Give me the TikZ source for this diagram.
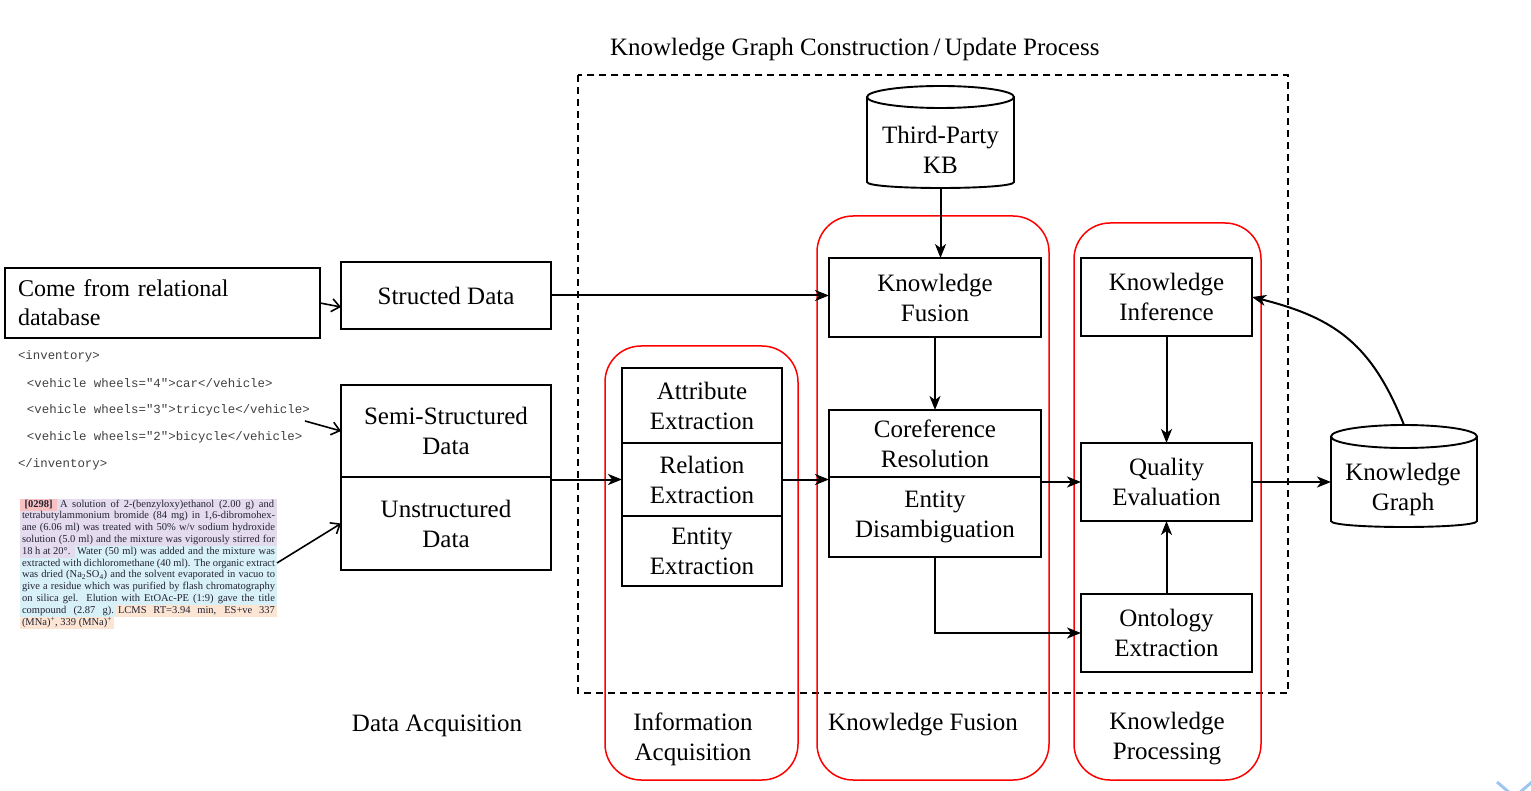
\documentclass[tikz,border=0pt]{standalone}
\usepackage{fontspec}
\setmainfont{Liberation Serif}
\newfontfamily\xmlfont{Liberation Mono}
\usetikzlibrary{arrows.meta}
\definecolor{kgred}{RGB}{255,0,0}
\definecolor{plav}{RGB}{228,220,238}
\definecolor{pcyan}{RGB}{216,240,248}
\definecolor{ppeach}{RGB}{253,229,211}
\definecolor{ppink}{RGB}{248,192,192}
\definecolor{ptext}{RGB}{34,34,51}
\definecolor{xmltext}{RGB}{64,64,64}
\definecolor{chev}{RGB}{158,197,240}
\begin{document}
\begin{tikzpicture}[x=1pt,y=-1pt,
  every node/.style={inner sep=0pt, outer sep=0pt},
  bigf/.style={font=\fontsize{25}{30}\selectfont},
  kbox/.style={bigf, draw, line width=2pt, align=center},
  cyl/.style={line width=1.9pt},
  redgroup/.style={draw=kgred, line width=1.5pt, rounded corners=36pt},
  arr/.style={line width=2pt, -{Stealth[length=14pt,width=11pt,inset=4pt]}},
  barb/.style={line width=1.6pt, -{Straight Barb[length=8pt,width=13pt]}},
  pline/.style={font=\fontsize{10.5}{11.8}\selectfont, text=ptext, inner xsep=2pt, text height=8pt, text depth=3.8pt, anchor=west},
  xml/.style={font=\xmlfont\fontsize{12.4}{14}\selectfont, text=xmltext, anchor=west},
]
\useasboundingbox (0,0) rectangle (1531,791);

% title and dashed frame
\node[bigf, anchor=west] (title) at (610,50) {Knowledge Graph Construction\,/\,Update Process};
\draw[line width=1.8pt, dash pattern=on 7pt off 5pt] (578,75) rectangle (1288,693);

% red groups
\draw[redgroup] (605,346) rectangle (798,780);
\draw[redgroup] (817,216) rectangle (1049,780);
\draw[redgroup] (1074,223) rectangle (1261,780);

% data sources
\node[draw, line width=2pt, font=\fontsize{24}{29}\selectfont, minimum width=315, minimum height=70, text width=289pt, align=left] (reldb) at (162.5,303) {Come from relational\\database};
\node[kbox, minimum width=210, minimum height=67] (struct) at (446,295.5) {Structed Data};
\node[kbox, minimum width=210, minimum height=92] (semi) at (446,431) {Semi-Structured\\Data};
\node[kbox, minimum width=210, minimum height=93] (unstr) at (446,523.5) {Unstructured\\Data};

% information acquisition
\node[kbox, minimum width=160, minimum height=75] (attr) at (702,405.5) {Attribute\\Extraction};
\node[kbox, minimum width=160, minimum height=73] (relx) at (702,479.5) {Relation\\Extraction};
\node[kbox, minimum width=160, minimum height=70] (entx) at (702,551) {Entity\\Extraction};

% knowledge fusion
\node[kbox, minimum width=212, minimum height=79] (kf) at (935,297.5) {Knowledge\\Fusion};
\node[kbox, minimum width=212, minimum height=67] (coref) at (935,443.5) {Coreference\\Resolution};
\node[kbox, minimum width=212, minimum height=80] (entdis) at (935,517) {Entity\\Disambiguation};

% knowledge processing
\node[kbox, minimum width=171, minimum height=78] (kinf) at (1166.5,297) {Knowledge\\Inference};
\node[kbox, minimum width=171, minimum height=78] (qual) at (1166.5,482) {Quality\\Evaluation};
\node[kbox, minimum width=171, minimum height=78] (onto) at (1166.5,633) {Ontology\\Extraction};

% Third-party KB cylinder
\node[minimum width=147, minimum height=102] (kb) at (940.5,137) {};
\draw[cyl] (867,97) -- (867,182) .. controls (867,190) and (1014,190) .. (1014,182) -- (1014,97);
\draw[cyl] (940.5,97) ellipse [x radius=73.5, y radius=11];
\node[bigf, align=center] (kbt) at (940.5,150) {Third-Party\\KB};

% Knowledge graph cylinder
\node[minimum width=146, minimum height=102] (kg) at (1404,476) {};
\draw[cyl] (1331,436.5) -- (1331,521) .. controls (1331,529) and (1477,529) .. (1477,521) -- (1477,436.5);
\draw[cyl] (1404,436.5) ellipse [x radius=73, y radius=11.5];
\node[bigf, align=center] (kgt) at (1403,489) {Knowledge\\Graph};

% bottom labels
\node[bigf] (lda) at (437,726) {Data Acquisition};
\node[bigf, align=center] (lia) at (693,739) {Information\\Acquisition};
\node[bigf] (lkf) at (923,725) {Knowledge Fusion};
\node[bigf, align=center] (lkp) at (1167,739) {Knowledge\\Processing};

% XML example
\node[xml] (x1) at (18,356) {<inventory>};
\node[xml] (x2) at (27,383) {<vehicle wheels="4">car</vehicle>};
\node[xml] (x3) at (27,410) {<vehicle wheels="3">tricycle</vehicle>};
\node[xml] (x4) at (27,437) {<vehicle wheels="2">bicycle</vehicle>};
\node[xml] (x5) at (18,464) {</inventory>};

% unstructured paragraph
\node[pline, fill=ppink, minimum width=37pt] (p1a) at (20,505) {\textbf{[0298]}};
\node[pline, fill=plav, inner xsep=3pt] (p1b) at (57,505) {\makebox[214pt][s]{A solution of 2-(benzyloxy)ethanol (2.00 g) and}};
\node[pline, fill=plav] (p2) at (20,516.8) {\makebox[253pt][s]{tetrabutylammonium bromide (84 mg) in 1,6-dibromohex-}};
\node[pline, fill=plav] (p3) at (20,528.6) {\makebox[253pt][s]{ane (6.06 ml) was treated with 50\% w/v sodium hydroxide}};
\node[pline, fill=plav] (p4) at (20,540.4) {\makebox[253pt][s]{solution (5.0 ml) and the mixture was vigorously stirred for}};
\node[pline, fill=plav] (p5a) at (20,552.2) {\makebox[51pt][l]{18 h at 20°.}};
\node[pline, fill=pcyan] (p5b) at (75,552.2) {\makebox[198pt][s]{Water (50 ml) was added and the mixture was}};
\node[pline, fill=pcyan] (p6) at (20,564) {\makebox[253pt][s]{extracted with dichloromethane (40 ml). The organic extract}};
\node[pline, fill=pcyan] (p7) at (20,575.8) {\makebox[253pt][s]{was dried (Na\textsubscript{2}SO\textsubscript{4}) and the solvent evaporated in vacuo to}};
\node[pline, fill=pcyan] (p8) at (20,587.6) {\makebox[253pt][s]{give a residue which was purified by flash chromatography}};
\node[pline, fill=pcyan] (p9) at (20,599.4) {\makebox[253pt][s]{on silica gel. Elution with EtOAc-PE (1:9) gave the title}};
\node[pline, fill=pcyan] (p10a) at (20,611.2) {\makebox[92pt][s]{compound (2.87 g).}};
\node[pline, fill=ppeach] (p10b) at (116,611.2) {\makebox[157pt][s]{LCMS RT=3.94 min, ES+ve 337}};
\node[pline, fill=ppeach] (p11) at (20,623) {(MNa)\textsuperscript{+}, 339 (MNa)\textsuperscript{+}};

% source arrows
\coordinate (xmlend) at (305,421);
\coordinate (parend) at (277,563);
\draw[barb] (reldb.east) -- ([yshift=-11.5pt]struct.west);
\draw[barb] (xmlend) -- (semi.west);
\draw[barb] (parend) -- (unstr.west);

% flow arrows
\draw[arr] (struct.east) -- (struct.east -| kf.west);
\draw[arr] (relx.west -| unstr.north east) -- (relx.west);
\draw[arr] (relx.east) -- (relx.east -| coref.west);
\draw[arr] (kb.south) -- (kb.south |- kf.north);
\draw[arr] (kf.south) -- (coref.north);
\draw[arr] (qual.west -| entdis.east) -- (qual.west);
\draw[arr] (entdis.south) |- (onto.west);
\draw[arr] (kinf.south) -- (qual.north);
\draw[arr] (onto.north) -- (qual.south);
\draw[arr] (qual.east) -- (qual.east -| kg.west);
\draw[arr] (kg.north) .. controls (1372,345) and (1336,318) .. (kinf.east);

% partial chevron at the corner
\draw[chev, line width=3pt] (1497,782) -- (1514.5,797) -- (1532,782);
\end{tikzpicture}
\end{document}
